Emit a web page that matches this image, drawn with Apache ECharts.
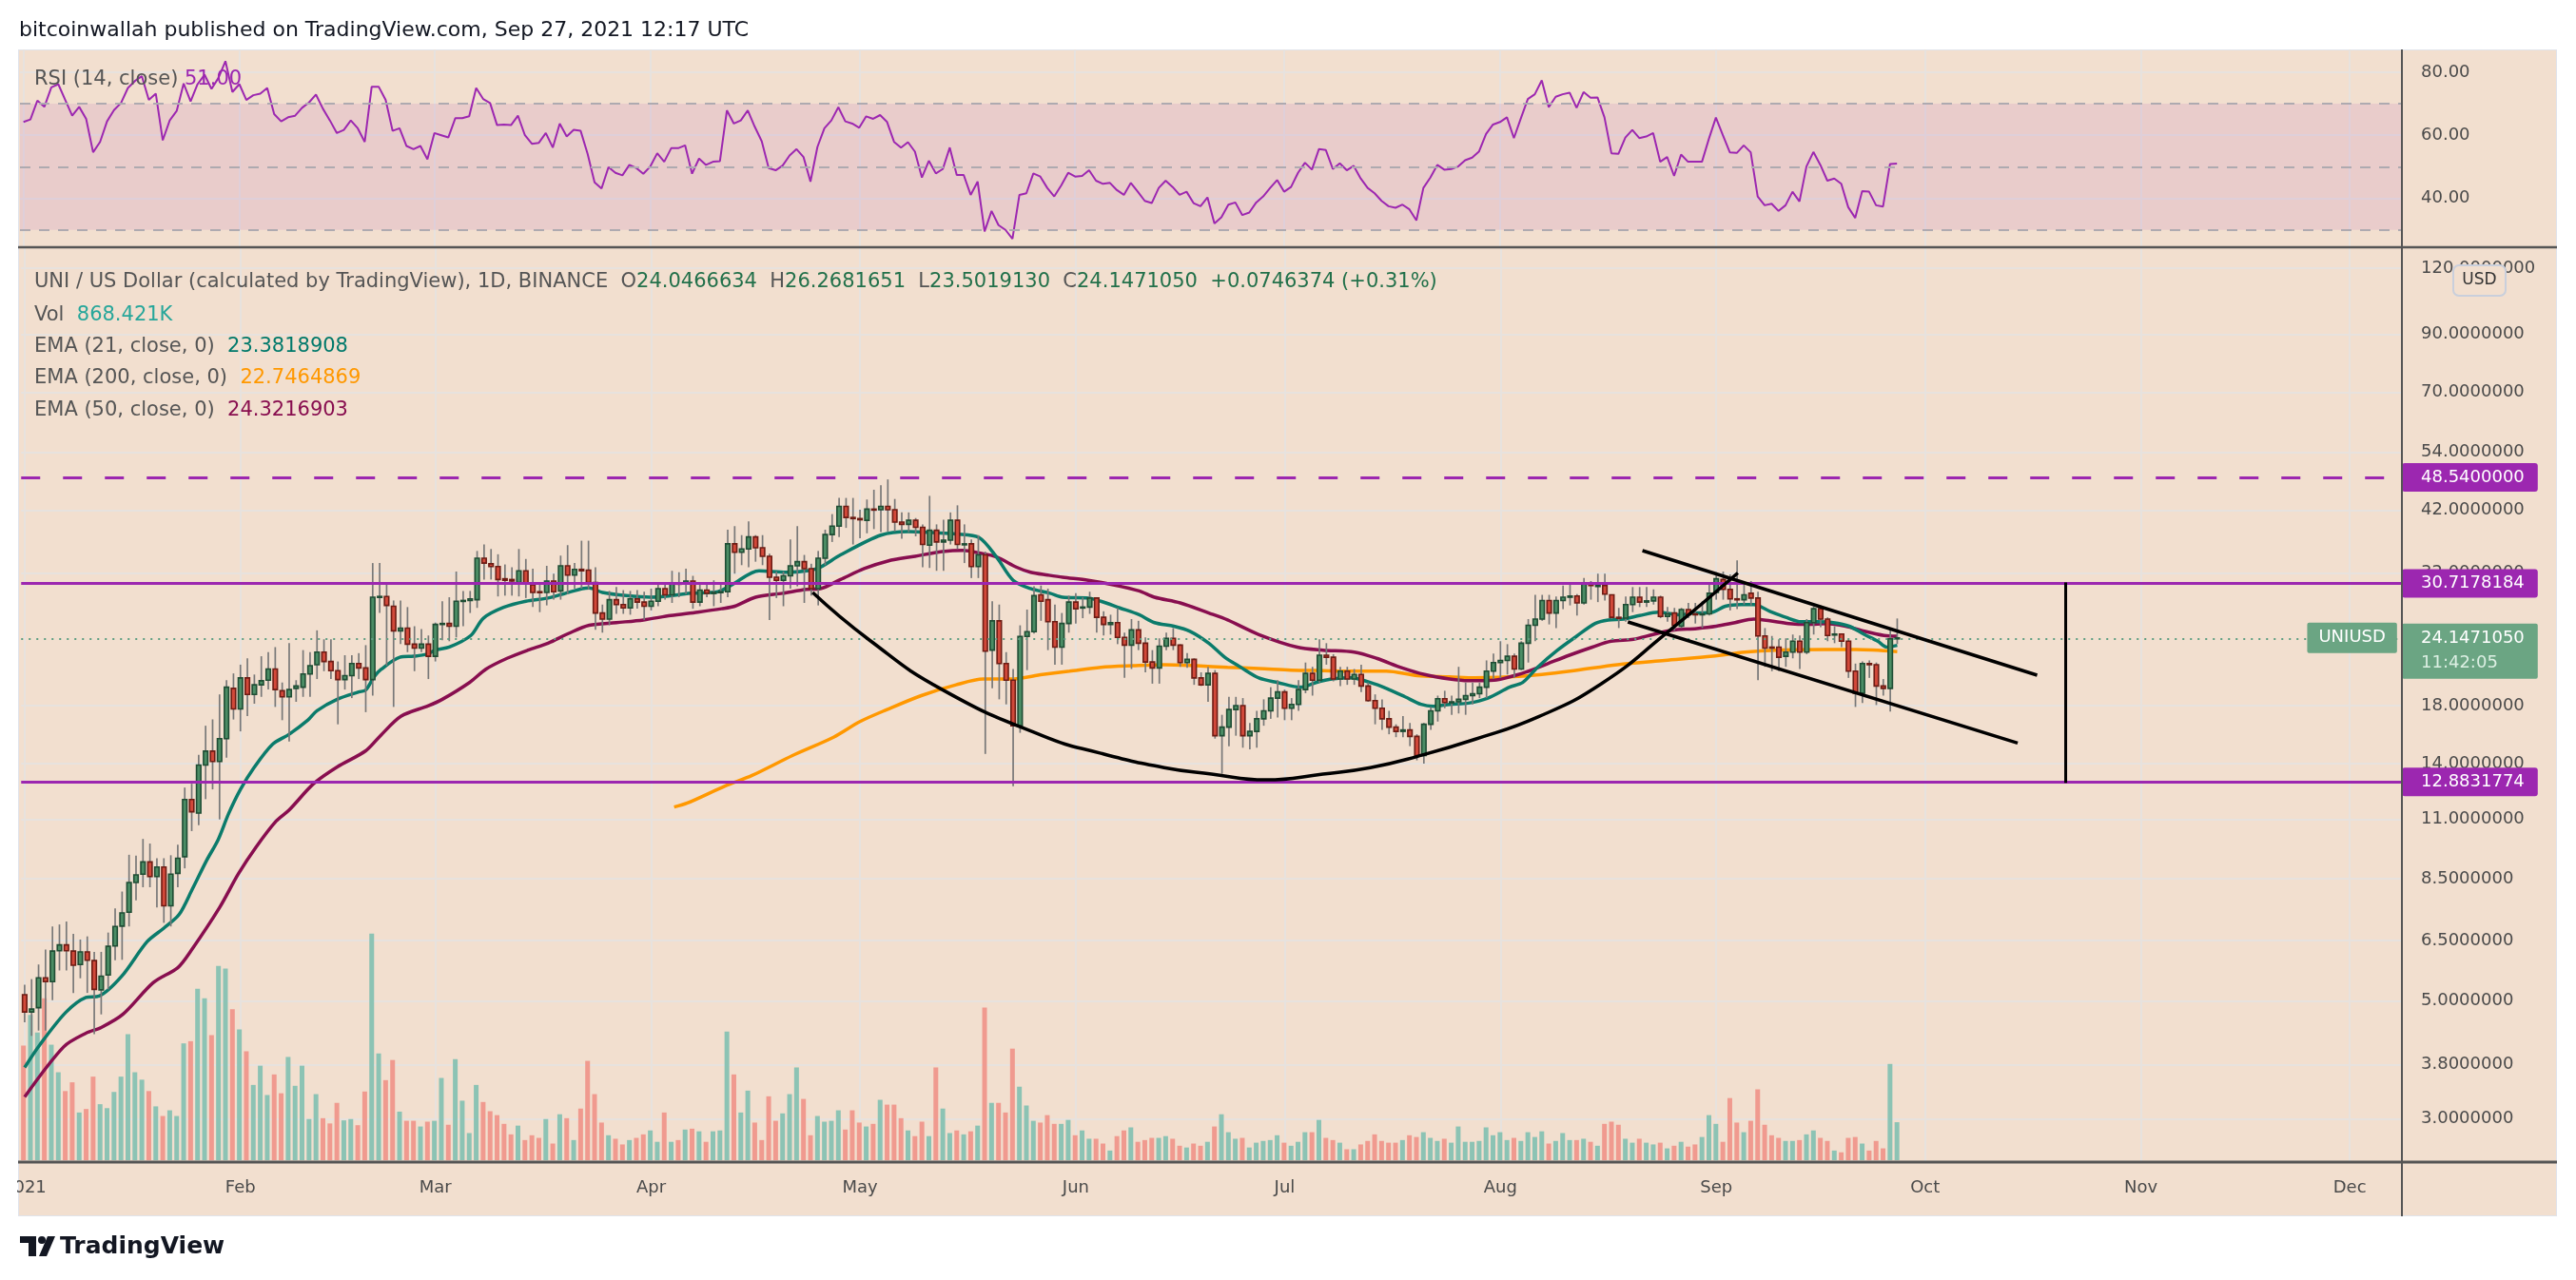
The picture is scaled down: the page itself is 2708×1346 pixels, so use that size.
<!DOCTYPE html>
<html>
<head>
<meta charset="utf-8">
<title>UNI / US Dollar</title>
<script src="https://cdn.jsdelivr.net/npm/echarts@6.0.0/dist/echarts.min.js"></script>
<style>
  html, body { margin: 0; padding: 0; background: #ffffff; }
  #panel { position: absolute; left: 19px; top: 52px; width: 2669px; height: 1227px; background: #f2dfcf; box-sizing: border-box; border: 1px solid #e0e3eb; }
  #chart { position: absolute; left: 0; top: 0; width: 2708px; height: 1346px; }
</style>
</head>
<body>
<div id="panel"></div>
<div id="chart"></div>
<script>
// ---- days on the time axis (Jan 1 2021 onward, one category per day) ----
const startDay = Date.UTC(2021, 0, 1);
const dayCount = 342;
const days = [];
for (let i = 0; i < dayCount; i++) {
  days.push(new Date(startDay + i * 864e5).toISOString().slice(0, 10));
}
const monthLabels = ['2021', 'Feb', 'Mar', 'Apr', 'May', 'Jun', 'Jul', 'Aug', 'Sep', 'Oct', 'Nov', 'Dec'];

// daily candles, [open, high, low, close], from Jan 1 2021
const ohlc = [
  [5.14,5.37,4.56,4.77],[4.77,5.50,4.30,4.83],[4.86,5.86,4.40,5.53],[5.53,6.25,4.40,5.44],[5.44,6.91,5.02,6.21],
  [6.22,6.97,5.71,6.38],[6.38,7.06,5.71,6.22],[6.21,6.69,5.18,5.84],[5.86,6.53,5.52,6.19],[6.19,6.62,5.18,5.97],
  [5.96,6.19,4.33,5.26],[5.25,6.19,4.72,5.57],[5.60,6.73,5.26,6.34],[6.35,7.47,5.97,6.91],[6.92,8.04,5.98,7.33],
  [7.35,9.43,6.91,8.36],[8.36,9.39,7.74,8.64],[8.67,10.1,8.19,9.14],[9.14,9.90,8.19,8.58],[8.58,9.29,7.50,8.94],
  [8.94,9.29,7.02,7.56],[7.56,9.41,6.91,8.67],[8.70,9.85,8.19,9.29],[9.35,12.62,8.89,11.98],[11.98,12.83,10.45,11.36],
  [11.30,14.54,10.72,13.91],[13.91,16.5,12.0,14.78],[14.78,16.96,12.52,14.13],[14.13,18.9,10.99,15.6],[15.6,20.1,14.37,19.5],
  [19.4,20.7,16.95,17.75],[17.75,21.5,16.1,20.3],[20.3,22.1,17.2,18.9],[18.9,20.6,18.15,19.7],[19.7,22.3,18.7,20.05],
  [20.1,22.7,19.3,21.1],[21.1,23.2,17.9,19.3],[19.2,19.9,16.9,18.7],[18.7,23.6,15.4,19.3],[19.4,20.1,18.3,19.6],
  [19.5,22.9,18.7,20.65],[20.65,22.7,18.7,21.4],[21.5,24.95,20.2,22.7],[22.7,24.0,20.9,21.8],[21.8,24.0,20.2,20.95],
  [20.95,21.8,16.6,20.15],[20.15,22.4,19.3,20.5],[20.5,22.4,18.6,21.6],[21.6,22.6,20.2,21.2],[21.2,23.4,17.5,20.15],
  [20.15,33.4,18.8,28.8],[28.8,33.4,26.9,28.9],[28.9,30.4,21.4,27.8],[27.7,28.4,17.9,24.9],[24.9,28.4,23.5,25.2],
  [25.2,27.6,22.7,23.5],[23.5,25.4,20.9,23.1],[23.1,25.1,22.7,23.5],[23.5,24.4,20.2,22.3],[22.3,25.8,21.8,25.6],
  [25.6,28.3,23.9,25.7],[25.7,28.8,23.8,25.4],[25.4,32.2,24.2,28.3],[28.3,29.6,25.4,28.4],[28.4,29.6,26.9,28.6],
  [28.5,35.2,27.5,34.1],[34.1,36.2,31.1,33.4],[33.3,35.5,31.1,32.9],[32.9,34.7,28.9,31.1],[31.2,33.2,29.0,31.0],
  [31.1,32.8,29.0,30.9],[30.7,35.5,28.9,32.3],[32.3,34.0,28.7,30.5],[30.4,32.6,27.6,29.4],[29.5,30.6,27.0,29.4],
  [29.4,33.0,27.8,30.9],[30.9,31.9,28.5,29.5],[29.6,34.5,28.5,33.0],[33.0,36.1,29.2,31.7],[31.7,33.4,29.9,32.5],
  [32.5,36.8,29.9,32.3],[32.4,36.8,29.8,30.7],[30.7,32.8,25.0,26.9],[26.9,27.9,24.7,26.2],[26.2,29.6,25.5,28.5],
  [28.5,30.1,26.8,27.9],[27.9,29.7,26.8,27.5],[27.5,29.6,26.7,28.6],[28.6,29.7,27.4,28.2],[28.2,29.5,26.1,27.7],
  [27.7,29.9,27.2,28.3],[28.3,30.6,27.7,29.9],[29.9,30.6,28.5,29.1],[29.1,32.3,28.1,30.6],[30.6,32.1,28.8,30.5],
  [30.5,32.6,29.2,30.9],[30.9,31.6,27.4,28.2],[28.2,30.4,27.7,29.7],[29.7,30.7,28.8,29.3],[29.3,31.0,27.7,29.4],
  [29.4,30.4,28.1,29.5],[29.5,38.6,28.8,36.3],[36.3,39.2,31.9,35.0],[35.0,37.7,33.1,35.5],[35.5,40.0,32.8,37.4],
  [37.4,37.7,33.6,35.7],[35.7,37.7,33.1,34.4],[34.4,34.8,26.1,31.4],[31.4,32.2,28.7,31.0],[31.0,32.2,27.7,31.6],
  [31.6,37.0,29.9,33.0],[33.0,39.2,30.2,33.6],[33.6,34.6,28.1,32.6],[32.6,33.3,29.0,29.9],[29.9,35.2,27.8,34.1],
  [34.1,38.6,33.1,37.8],[37.8,41.3,36.6,39.2],[39.2,44.3,37.4,42.7],[42.7,44.3,38.9,40.7],[40.7,44.3,36.2,40.5],
  [40.5,42.1,37.2,40.3],[40.2,44.0,38.0,42.2],[42.2,45.9,38.7,42.1],[42.1,46.8,38.2,42.7],[42.7,48.0,38.3,42.1],
  [42.1,44.1,38.3,39.9],[39.9,41.6,37.1,39.5],[39.5,41.6,38.2,40.2],[40.2,40.6,37.5,39.0],[39.0,39.5,32.8,36.2],
  [36.1,44.7,32.7,38.5],[38.5,39.5,32.3,36.6],[36.6,40.3,32.3,36.9],[36.9,41.6,36.2,40.2],[40.2,42.9,35.5,36.2],
  [36.2,39.5,33.4,36.3],[36.3,37.0,31.3,32.9],[32.9,37.7,31.3,34.6],[34.6,35.1,14.6,22.8],[22.9,28.3,19.4,26.0],
  [26.0,27.9,18.5,21.6],[21.6,22.7,18.1,20.1],[20.1,21.1,12.7,16.5],[16.5,25.5,16.0,24.3],[24.3,27.3,21.0,24.8],
  [24.8,30.2,24.6,29.0],[29.1,30.3,26.0,28.3],[28.5,29.9,22.9,25.9],[25.9,27.9,21.5,23.2],[23.2,26.9,21.5,25.7],
  [25.7,29.0,24.7,28.2],[28.2,29.3,25.7,27.4],[27.5,28.8,26.3,27.6],[27.6,29.5,26.8,28.7],[28.7,28.8,24.7,26.4],
  [26.4,27.1,24.4,25.6],[25.6,26.7,24.5,25.8],[25.8,27.5,23.5,24.2],[24.2,24.7,20.3,23.4],[23.4,26.2,21.1,25.0],
  [25.0,26.0,22.9,23.6],[23.6,24.2,20.8,21.75],[21.75,22.9,19.8,21.2],[21.2,24.1,19.8,23.3],[23.3,24.7,22.9,24.1],
  [24.1,25.2,22.9,23.4],[23.4,23.5,21.3,21.7],[21.7,22.6,21.2,22.0],[22.0,22.1,19.7,20.3],[20.3,20.8,19.6,19.7],
  [19.7,21.3,18.3,20.7],[20.7,21.0,15.6,15.8],[15.8,17.3,13.4,16.4],[16.4,18.7,15.1,17.7],[17.7,18.7,15.8,18.0],
  [18.0,18.6,15.0,15.8],[15.8,16.7,14.9,16.1],[16.1,17.6,15.0,17.0],[17.0,18.5,16.5,17.6],[17.6,19.5,17.0,18.6],
  [18.6,20.1,17.1,19.1],[19.1,19.3,16.9,17.8],[17.8,18.6,16.9,18.1],[18.1,20.1,17.6,19.3],[19.3,21.7,19.0,20.7],
  [20.7,21.3,18.8,20.1],[20.1,24.0,19.9,22.4],[22.4,23.6,21.5,22.2],[22.2,22.5,20.0,20.2],[20.2,21.3,19.6,20.9],
  [20.9,21.3,19.7,20.2],[20.2,21.1,19.7,20.6],[20.6,21.5,19.1,19.6],[19.6,19.9,18.3,18.4],[18.4,18.9,16.6,17.8],
  [17.8,18.5,16.2,17.0],[17.0,17.6,15.9,16.4],[16.4,16.6,15.7,16.1],[16.1,17.2,15.7,16.2],[16.2,16.7,15.1,15.75],
  [15.75,15.9,14.2,14.5],[14.5,16.7,14.0,16.6],[16.6,17.9,16.2,17.6],[17.6,18.8,16.8,18.55],[18.55,19.2,17.8,18.25],
  [18.25,18.8,17.3,18.3],[18.3,21.3,17.4,18.5],[18.5,19.9,17.3,18.8],[18.8,19.9,18.1,18.95],[18.95,19.9,18.6,19.5],
  [19.5,21.9,18.6,20.9],[20.9,22.55,20.2,21.7],[21.7,23.8,20.3,21.9],[21.9,23.5,20.6,22.3],[22.3,22.55,20.3,21.1],
  [21.1,23.8,21.0,23.6],[23.6,26.2,21.7,25.5],[25.5,29.1,23.8,26.2],[26.2,29.1,26.0,28.4],[28.4,29.1,25.6,26.9],
  [26.9,28.9,25.2,28.4],[28.4,30.3,27.35,28.8],[28.8,30.4,27.8,28.95],[28.95,29.2,26.6,28.1],[28.1,31.3,27.9,30.5],
  [30.5,30.9,28.5,30.3],[30.25,31.9,28.2,30.3],[30.3,31.9,28.4,29.2],[29.1,29.1,26.2,26.4],[26.4,27.5,25.2,26.3],
  [26.3,28.9,25.9,27.9],[27.9,30.1,27.0,28.8],[28.8,30.1,27.6,28.2],[28.2,30.1,27.6,28.35],[28.35,29.8,27.9,28.8],
  [28.8,29.0,26.3,26.5],[26.5,27.6,25.9,26.8],[26.9,27.5,24.9,25.5],[25.4,27.5,25.2,27.3],[27.3,28.1,26.3,26.7],
  [26.8,28.1,25.7,26.75],[26.75,28.3,25.2,26.8],[26.8,30.4,26.6,29.3],[29.4,32.1,28.5,31.2],[31.1,32.2,28.5,29.8],
  [29.8,31.8,27.2,28.6],[28.6,33.8,27.35,28.5],[28.5,30.5,27.9,29.1],[29.3,30.9,27.8,28.7],[28.7,29.5,20.1,24.35],
  [24.35,25.2,21.3,23.1],[23.2,24.35,20.9,23.1],[23.2,24.0,20.9,22.2],[22.3,24.1,21.3,22.7],[22.7,24.5,22.1,23.8],
  [23.8,24.4,21.1,22.7],[22.7,26.2,22.5,25.8],[25.8,27.7,24.5,27.4],[27.4,27.8,25.3,26.2],[26.2,26.4,23.8,24.4],
  [24.5,25.4,23.6,24.55],[24.55,24.6,23.2,23.8],[23.8,24.0,20.3,20.9],[20.9,21.6,17.9,19.0],[19.0,21.8,18.2,21.6],
  [21.6,21.9,20.3,21.5],[21.5,21.7,18.05,19.6],[19.6,20.2,18.8,19.4],[19.4,25.2,17.55,24.05],[24.0466634,26.2681651,23.5019130,24.1471050]
];

// daily volume, millions of UNI
const volumes = [
  2.62,3.32,2.92,3.70,2.64,2.01,1.58,1.78,1.09,1.17, 1.91,1.28,1.19,1.56,1.91,2.88,2.01,1.84,1.58,1.23,
  1.01,1.14,1.01,2.67,2.72,3.92,3.70,2.86,4.44,4.38, 3.45,2.99,2.49,1.72,2.16,1.49,1.96,1.53,2.36,1.70,
  2.16,0.94,1.51,0.96,0.84,1.31,0.91,0.94,0.80,1.57, 5.18,2.44,1.83,2.29,1.11,0.90,0.90,0.77,0.88,0.90,
  1.88,0.81,2.31,1.36,0.62,1.72,1.33,1.12,1.03,0.83, 0.59,0.79,0.46,0.57,0.51,0.94,0.38,1.05,0.96,0.46,
  1.18,2.27,1.51,0.86,0.57,0.49,0.36,0.46,0.51,0.59, 0.68,0.42,1.09,0.42,0.46,0.70,0.72,0.66,0.42,0.66,
  0.68,2.94,1.96,1.09,1.59,0.86,0.46,1.46,0.90,1.07, 1.51,2.12,1.40,0.57,1.01,0.88,0.90,1.14,0.70,1.14,
  0.86,0.77,0.83,1.38,1.27,1.27,0.96,0.68,0.55,0.88, 0.55,2.12,1.18,
  0.62,0.68,0.59,0.66,0.79,3.49,1.31,1.31,1.09,2.55, 1.68,1.25,0.90,0.86,1.03,0.83,0.83,0.92,0.57,0.68,
  0.49,0.49,0.38,0.22,0.55,0.68,0.75,0.42,0.46,0.51, 0.51,0.55,0.49,0.33,0.29,0.38,0.33,0.42,0.77,1.05,
  0.64,0.49,0.51,0.29,0.40,0.44,0.46,0.57,0.40,0.33, 0.42,0.64,0.64,0.92,0.51,0.46,0.40,0.25,0.25,0.36,
  0.44,0.59,0.44,0.40,0.40,0.46,0.57,0.53,0.64,0.51, 0.44,0.49,0.40,0.77,0.42,0.42,0.44,0.75,0.57,0.64,
  0.46,0.51,0.44,0.64,0.53,0.66,0.38,0.44,0.62,0.46, 0.46,0.49,0.42,0.33,0.83,0.88,0.81,0.49,0.40,0.49,
  0.40,0.36,0.40,0.27,0.33,0.42,0.31,0.36,0.53,1.03, 0.83,0.42,1.42,0.86,0.64,0.90,1.62,0.81,0.57,0.51,
  0.44,0.44,0.46,0.59,0.68,0.51,0.44,0.22,0.18,0.51, 0.53,0.38,0.22,0.44,0.27,2.20,0.868421
];

// RSI(14) per day
const rsi = [
  64.2,65.0,71.0,69.0,75.2,76.2,71.2,66.2,69.0,65.2, 54.6,57.9,64.4,68.0,70.2,75.0,77.2,78.7,71.2,73.2,
  58.4,64.7,67.7,76.4,70.7,76.2,79.2,74.7,78.2,83.5, 73.7,76.2,71.2,72.7,73.2,75.0,66.7,64.4,65.7,66.2,
  68.7,70.4,72.9,68.4,64.7,60.7,61.7,64.7,62.2,57.9, 75.4,75.4,71.2,61.4,62.2,56.6,55.6,56.6,52.4,60.7,
  60.0,59.3,65.4,65.4,66.0,75.0,71.5,70.2,63.2,63.4, 63.2,66.2,60.0,57.3,57.6,60.7,56.1,63.7,59.6,61.7,
  61.4,54.1,45.1,43.1,49.9,48.1,47.3,50.6,49.6,47.8, 50.1,54.3,51.6,55.9,55.9,56.8,47.8,52.6,50.6,51.6,
  51.8,67.9,63.7,64.7,67.9,62.7,58.1,49.6,48.9,50.4, 53.6,55.6,53.1,45.3,56.3,62.2,64.7,68.9,64.4,63.7,
  62.4,66.0,65.2,66.4,64.2,57.9,56.1,57.8,54.8,46.6, 51.9,47.9,49.3,56.1,47.4,47.4,41.1,45.3,29.5,36.0,
  31.5,30.0,27.2,41.1,41.6,47.9,46.9,43.3,40.6,44.1, 48.1,46.9,47.1,48.9,45.6,44.6,44.9,42.6,41.1,44.9,
  42.1,39.2,38.5,43.3,45.6,43.6,41.1,42.1,38.5,37.5, 40.3,32.0,34.0,38.0,38.7,34.7,35.5,38.7,40.6,43.3,
  45.8,42.1,43.6,48.1,51.3,49.1,55.6,55.3,49.3,51.1, 48.9,50.3,46.3,43.3,41.6,39.2,37.5,37.0,38.0,36.5,
  33.0,43.3,46.6,50.6,49.1,49.3,50.1,52.1,52.9,54.9, 60.4,63.4,64.2,65.7,59.1,65.4,71.5,73.0,77.4,68.9,
  72.2,73.0,73.5,68.7,73.7,71.9,72.0,65.7,54.3,54.1, 59.3,61.7,59.1,59.6,60.7,51.6,53.1,47.1,53.9,51.6,
  51.6,51.6,58.9,65.6,60.0,54.6,54.4,56.8,54.6,40.6, 37.8,38.3,36.0,37.8,42.1,39.0,50.1,54.7,50.6,45.6,
  46.3,44.6,37.2,33.8,42.3,42.1,37.8,37.4,50.9,51.0
];

// moving averages, [day index, price]
const ema21 = [
  [0,3.75],[2.2,4.14],[5.9,4.76],[8.8,5.08],[10.7,5.11],[13.9,5.56],[17.6,6.47],[20,6.86],[22.2,7.28],[24.1,8.13],
  [26.1,9.18],[27.8,10.07],[29.3,11.27],[31,12.52],[32.9,13.73],[35.6,15.22],[38,15.9],[40.7,16.91],[42,17.61],[44.9,18.5],
  [48,19.1],[49,19.26],[50.2,20.4],[51.2,21.06],[53.9,22.2],[55.9,22.3],[57.8,22.5],[59,22.9],[61,23.2],[64.1,24.4],
  [65.9,26.3],[68.8,27.56],[72,28.3],[75.2,28.7],[77.7,29.3],[80.1,29.9],[81.1,30.0],[83,29.4],[86.4,29.0],[89.9,28.8],
  [91.8,28.9],[95.7,29.3],[99.6,29.5],[101.6,30.4],[105.5,32.3],[109.4,32.1],[112.4,32.3],[114.3,32.8],[117.2,34.6],[123,37.7],
  [126.9,38.3],[130.8,38.1],[133.8,37.9],[137.1,37.3],[139.6,34.3],[142,31.0],[144.5,29.9],[147.3,29.3],[149.1,28.8],[152.8,28.7],
  [154.6,28.3],[157.3,27.5],[160.1,26.7],[162.3,25.8],[165.1,25.4],[167.4,24.85],[170.1,23.6],[172.4,22.2],[174.6,21.3],[177.3,20.3],
  [180,19.9],[183.3,19.5],[185.5,19.9],[187.8,20.2],[190.6,20.3],[193.3,19.9],[195.6,19.4],[198.3,18.7],[200.6,18.1],[202.4,17.95],
  [204.7,18.1],[207.4,18.2],[210.2,18.6],[213.3,19.5],[215.2,19.9],[217.4,21.3],[220.2,22.9],[222.9,24.3],[225.6,25.7],[227.5,26.1],
  [229.7,26.2],[232,26.6],[234.7,27.0],[237.5,26.7],[240.2,26.9],[242.5,27.0],[244.3,27.7],[246.6,27.9],[248.4,27.9],[250.7,27.1],
  [253,26.4],[255.2,25.9],[257.5,25.9],[259.8,25.8],[262.1,25.4],[264.3,24.5],[266.2,23.8],[267.5,23.2],[269,23.38]
];
const ema50 = [
  [0,3.3],[5.6,4.1],[8.8,4.35],[11,4.46],[14.1,4.72],[18.5,5.42],[22,5.78],[23.9,6.22],[28,7.5],[30.7,8.68],
  [33.2,9.73],[36.1,10.9],[38,11.45],[41.5,12.83],[44.9,13.8],[49,14.8],[51.2,15.85],[54.1,17.2],[58,17.99],[60,18.5],
  [63.9,19.9],[66.3,21.1],[69.3,22.1],[72.3,22.9],[75.2,23.6],[78.1,24.6],[81.1,25.5],[85,25.8],[88.9,26.1],[92.8,26.6],
  [96.7,27.0],[100.1,27.4],[102,27.7],[105,28.8],[108.9,29.3],[112.3,29.8],[114.3,29.9],[117.2,31.1],[120.6,32.6],[124,33.7],
  [127.9,34.4],[131.8,35.1],[134.8,35.3],[137.1,34.9],[139.6,34.3],[142.5,32.8],[144.5,32.1],[147,31.7],[149.1,31.4],[152.8,31.0],
  [156.4,30.4],[160.1,29.6],[162.3,28.8],[166,28.1],[170.1,26.9],[172.8,26.1],[177.3,24.5],[182.8,23.2],[186.5,22.9],[191,22.7],
  [194.2,22.1],[197.9,21.2],[201.1,20.6],[204.7,20.2],[207.4,20.05],[211.1,20.1],[212.8,20.3],[215.6,20.8],[218.8,21.6],[221.9,22.4],
  [225.2,23.2],[227.9,23.8],[231.1,24.0],[233.9,24.5],[236.6,24.95],[240.2,25.15],[243,25.4],[245.7,25.8],[248.4,26.2],[250.7,26.0],
  [253.4,25.7],[256.2,25.6],[258.9,25.7],[261.6,25.4],[264.3,24.85],[267.1,24.4],[269,24.32]
];
const ema200 = [
  [93.3,11.6],[95.2,11.8],[100.6,12.7],[104.5,13.3],[110.3,14.5],[116.2,15.7],[120,16.8],[123.9,17.7],[128.8,18.8],[133.8,19.7],
  [137.7,20.2],[141.6,20.2],[146.2,20.6],[150.1,20.9],[154.6,21.25],[159.2,21.4],[163.7,21.5],[168.3,21.4],[172.8,21.25],[177.3,21.15],
  [181.9,21.0],[186.5,20.95],[191,20.9],[195.6,20.9],[200.1,20.5],[204.7,20.4],[208.3,20.3],[215.2,20.45],[222,20.9],[228.8,21.5],
  [235.6,21.9],[242.5,22.3],[247.1,22.7],[251.6,22.9],[258.5,22.95],[263.1,22.95],[269,22.75]
];

// drawings, [day index, price]
const cupArc = [
  [113.2,29.4],[121.3,23.95],[131.8,19.3],[146.2,15.8],[154.6,14.64],[163.7,13.76],[170.5,13.38],[178.3,13.05],
  [186.5,13.38],[193.3,13.76],[200.1,14.45],[208.3,15.55],[217.4,17.14],[226.5,19.8],[235.7,24.56],[246.1,32.0]
];
const channelTop = [[232.4,35.25],[289.1,20.54]];
const channelBottom = [[230.3,25.88],[286.3,15.3]];
const targetMove = [[293.2,30.7178184],[293.2,12.8831774]];

const levelHigh = 48.54;
const levelMid = 30.7178184;
const levelLow = 12.8831774;
const lastPrice = 24.1471050;

const priceTicks = [3.0, 3.8, 5.0, 6.5, 8.5, 11, 14, 18, 32, 42, 54, 70, 90, 120];
const rsiTicks = [40, 60, 80];

// ---- styling ----
const FONT = 'DejaVu Sans';
const gridColor = '#e7e2de';
const axisText = '#4a4a4a';
const purple = '#9c27b0';
const upFill = '#4b8d65', upEdge = '#1f4d34';
const downFill = '#d2493a', downEdge = '#6e1c14';
const wick = '#787878';
const volUp = '#8cc3b4', volDown = '#f09a8f';
const priceGreen = '#6ba583';

const ln = Math.log;
const lnData = arr => arr.map(([d, p]) => [d, ln(p)]);
const isMonthStart = (i, v) => v.slice(8) === '01';

const candleData = ohlc.map((r, i) => [i, ln(r[0]), ln(r[3]), ln(r[2]), ln(r[1])]);
const volumeData = volumes.map((v, i) => ({
  value: v,
  itemStyle: { color: ohlc[i][3] >= ohlc[i][0] ? volUp : volDown }
}));

function renderCandle(params, api) {
  const i = api.value(0);
  const o = api.value(1), c = api.value(2), l = api.value(3), h = api.value(4);
  const top = api.coord([i, Math.max(o, c)]);
  const bot = api.coord([i, Math.min(o, c)]);
  const hi = api.coord([i, h]);
  const lo = api.coord([i, l]);
  const bw = api.size([1, 0])[0] * 0.62;
  const up = c >= o;
  return {
    type: 'group',
    children: [
      { type: 'line', shape: { x1: hi[0], y1: hi[1], x2: lo[0], y2: lo[1] }, style: { stroke: wick, lineWidth: 1.7 } },
      { type: 'rect', shape: { x: top[0] - bw / 2, y: top[1], width: bw, height: Math.max(bot[1] - top[1], 1) },
        style: { fill: up ? upFill : downFill, stroke: up ? upEdge : downEdge, lineWidth: 1.6 } }
    ]
  };
}

const levelLabel = {
  show: true, position: 'end', distance: 0,
  color: '#ffffff', fontFamily: FONT, fontSize: 18, lineHeight: 20,
  backgroundColor: purple, padding: [5, 14, 5, 20], borderRadius: 3
};

const chart = echarts.init(document.getElementById('chart'));
chart.setOption({
  animation: false,
  grid: [
    { left: 21, right: 183, top: 52, height: 207 },
    { left: 21, right: 183, top: 261, height: 961 },
    { left: 21, right: 183, top: 944, height: 276 }
  ],
  xAxis: [
    { type: 'category', gridIndex: 0, data: days, axisLine: { show: false }, axisTick: { show: false },
      axisLabel: { show: false },
      splitLine: { show: true, interval: isMonthStart, alignWithLabel: true, lineStyle: { color: gridColor, width: 2 } } },
    { type: 'category', gridIndex: 1, data: days, axisLine: { show: false }, axisTick: { show: false },
      axisLabel: { show: true, interval: isMonthStart, margin: 18, color: axisText, fontFamily: FONT, fontSize: 18,
        formatter: v => monthLabels[+v.slice(5, 7) - 1] },
      splitLine: { show: true, interval: isMonthStart, alignWithLabel: true, lineStyle: { color: gridColor, width: 2 } } },
    { type: 'category', gridIndex: 2, data: days, show: false },
    { type: 'value', gridIndex: 1, min: -0.5, max: dayCount - 0.5, show: false }
  ],
  yAxis: [
    { type: 'value', gridIndex: 0, position: 'right', min: 24.8, max: 87.2,
      axisLine: { show: false }, axisTick: { show: false, customValues: rsiTicks },
      axisLabel: { customValues: rsiTicks, margin: 20, color: axisText, fontFamily: FONT, fontSize: 18, formatter: v => v.toFixed(2) },
      splitLine: { show: true, lineStyle: { color: gridColor, width: 2 } } },
    { type: 'value', gridIndex: 1, position: 'right', min: ln(2.488), max: ln(130.8),
      axisLine: { show: false }, axisTick: { show: false, customValues: priceTicks.map(ln) },
      axisLabel: { customValues: priceTicks.map(ln), margin: 20, color: axisText, fontFamily: FONT, fontSize: 18,
        formatter: v => Math.exp(v).toFixed(7) },
      splitLine: { show: true, lineStyle: { color: gridColor, width: 2 } } },
    { type: 'value', gridIndex: 2, min: 0, max: 6, show: false }
  ],
  series: [
    {
      name: 'RSI', type: 'line', xAxisIndex: 0, yAxisIndex: 0, data: rsi, symbol: 'none', z: 3,
      lineStyle: { color: purple, width: 2 },
      markArea: { silent: true, itemStyle: { color: 'rgba(156,39,176,0.1)' }, data: [[{ yAxis: 30 }, { yAxis: 70 }]] },
      markLine: { silent: true, symbol: ['none', 'none'], label: { show: false },
        lineStyle: { type: [11, 9], color: '#aeaab0', width: 2 },
        data: [{ yAxis: 70 }, { yAxis: 50 }, { yAxis: 30 }] }
    },
    { name: 'Vol', type: 'bar', xAxisIndex: 2, yAxisIndex: 2, barWidth: 5, data: volumeData, z: 1 },
    { name: 'EMA200', type: 'line', xAxisIndex: 3, yAxisIndex: 1, data: lnData(ema200), smooth: 0.3, symbol: 'none', z: 3,
      lineStyle: { color: '#ff9800', width: 3.5 } },
    { name: 'EMA50', type: 'line', xAxisIndex: 3, yAxisIndex: 1, data: lnData(ema50), smooth: 0.3, symbol: 'none', z: 3,
      lineStyle: { color: '#880e4f', width: 3.5 } },
    { name: 'EMA21', type: 'line', xAxisIndex: 3, yAxisIndex: 1, data: lnData(ema21), smooth: 0.3, symbol: 'none', z: 3,
      lineStyle: { color: '#0b7b6b', width: 3.5 } },
    { name: 'UNIUSD', type: 'custom', xAxisIndex: 1, yAxisIndex: 1, data: candleData, renderItem: renderCandle,
      encode: { x: 0, y: [1, 2, 3, 4] }, z: 4, clip: true,
      // symbol tag at the right edge of the plot, on the last price
      markPoint: {
        silent: true, symbol: 'rect', symbolSize: 1, itemStyle: { color: 'rgba(0,0,0,0)' },
        data: [{ coord: [dayCount - 1, ln(lastPrice)],
          label: { show: true, position: 'left', distance: 1, formatter: 'UNIUSD', color: '#ffffff',
            fontFamily: FONT, fontSize: 18, lineHeight: 20, backgroundColor: priceGreen,
            padding: [6, 12, 6, 12], borderRadius: 2 } }]
      } },
    {
      name: 'levels', type: 'line', xAxisIndex: 1, yAxisIndex: 1, data: [], z: 5,
      markLine: {
        silent: true, symbol: ['none', 'none'],
        data: [
          { yAxis: ln(lastPrice), lineStyle: { color: '#5f9f83', width: 2, type: [2, 6] },
            label: { show: true, position: 'end', distance: 0, offset: [0, 13], backgroundColor: priceGreen,
              padding: [3, 14, 3, 20], borderRadius: 2,
              formatter: '{p|24.1471050}\n{t|11:42:05}',
              rich: { p: { color: '#ffffff', fontFamily: FONT, fontSize: 18, lineHeight: 26 },
                      t: { color: '#dcefe3', fontFamily: FONT, fontSize: 18, lineHeight: 26 } } } },
          { yAxis: ln(levelHigh), lineStyle: { color: purple, width: 3, type: [20, 24] },
            label: Object.assign({}, levelLabel, { formatter: levelHigh.toFixed(7) }) },
          { yAxis: ln(levelMid), lineStyle: { color: purple, width: 3, type: 'solid' },
            label: Object.assign({}, levelLabel, { formatter: levelMid.toFixed(7) }) },
          { yAxis: ln(levelLow), lineStyle: { color: purple, width: 3, type: 'solid' },
            label: Object.assign({}, levelLabel, { formatter: levelLow.toFixed(7) }) }
        ]
      }
    },
    { name: 'cup', type: 'line', xAxisIndex: 3, yAxisIndex: 1, data: lnData(cupArc), smooth: 0.5, symbol: 'none', z: 6,
      lineStyle: { color: '#000000', width: 3.5 } },
    { name: 'channelTop', type: 'line', xAxisIndex: 3, yAxisIndex: 1, data: lnData(channelTop), symbol: 'none', z: 6,
      lineStyle: { color: '#000000', width: 3.5 } },
    { name: 'channelBottom', type: 'line', xAxisIndex: 3, yAxisIndex: 1, data: lnData(channelBottom), symbol: 'none', z: 6,
      lineStyle: { color: '#000000', width: 3.5 } },
    { name: 'target', type: 'line', xAxisIndex: 3, yAxisIndex: 1, data: lnData(targetMove), symbol: 'none', z: 6,
      lineStyle: { color: '#000000', width: 3 } }
  ],
  graphic: { elements: [
    // header and logo, outside the panel
    { type: 'text', x: 20, y: 32, z: 10, style: { text: 'bitcoinwallah published on TradingView.com, Sep 27, 2021 12:17 UTC',
      fill: '#131722', font: '22px "DejaVu Sans"', verticalAlign: 'middle' } },
    { type: 'rect', x: 0, y: 1222, z: 10, shape: { width: 18, height: 60 }, style: { fill: '#ffffff' } },
    { type: 'rect', x: 21, y: 1300, z: 10, shape: { width: 17, height: 7 }, style: { fill: '#131722' } },
    { type: 'rect', x: 30, y: 1300, z: 10, shape: { width: 8, height: 21 }, style: { fill: '#131722' } },
    { type: 'circle', z: 10, shape: { cx: 44, cy: 1304, r: 4 }, style: { fill: '#131722' } },
    { type: 'polygon', z: 10, shape: { points: [[50, 1300], [58, 1300], [49, 1321], [41, 1321]] }, style: { fill: '#131722' } },
    { type: 'text', x: 63, y: 1311, z: 10, style: { text: 'TradingView', fill: '#131722', font: '600 25px "DejaVu Sans"', verticalAlign: 'middle' } },
    // pane separators
    { type: 'line', z: 20, shape: { x1: 19, y1: 260, x2: 2688, y2: 260 }, style: { stroke: '#555555', lineWidth: 2.5 } },
    { type: 'line', z: 20, shape: { x1: 19, y1: 1222, x2: 2688, y2: 1222 }, style: { stroke: '#555555', lineWidth: 3 } },
    { type: 'line', z: 20, shape: { x1: 2525, y1: 52, x2: 2525, y2: 1279 }, style: { stroke: '#555555', lineWidth: 2 } },
    // currency badge
    { type: 'rect', z: 20, x: 2579, y: 279, shape: { width: 55, height: 32, r: 6 }, style: { fill: '#f2dfcf', stroke: '#c9cfdc', lineWidth: 2 } },
    { type: 'text', z: 21, x: 2606.5, y: 295, style: { text: 'USD', fill: '#333333', font: '17px "DejaVu Sans"', align: 'center', verticalAlign: 'middle' } },
    // legends
    { type: 'text', x: 36, y: 84, z: 20, style: { verticalAlign: 'middle', font: '21px "DejaVu Sans"',
      text: '{g|RSI (14, close)} {r|51.00}',
      rich: { g: { fill: '#555555', font: '21px "DejaVu Sans"' }, r: { fill: '#9c27b0', font: '21px "DejaVu Sans"' } } } },
    { type: 'text', x: 36, y: 297, z: 20, style: { verticalAlign: 'middle', font: '21px "DejaVu Sans"',
      text: '{g|UNI / US Dollar (calculated by TradingView), 1D, BINANCE}  {g|O}{v|24.0466634}  {g|H}{v|26.2681651}  {g|L}{v|23.5019130}  {g|C}{v|24.1471050}  {v|+0.0746374 (+0.31%)}',
      rich: { g: { fill: '#555555', font: '21px "DejaVu Sans"' }, v: { fill: '#22704a', font: '21px "DejaVu Sans"' } } } },
    { type: 'text', x: 36, y: 332, z: 20, style: { verticalAlign: 'middle', font: '21px "DejaVu Sans"',
      text: '{g|Vol}  {v|868.421K}',
      rich: { g: { fill: '#555555', font: '21px "DejaVu Sans"' }, v: { fill: '#26a69a', font: '21px "DejaVu Sans"' } } } },
    { type: 'text', x: 36, y: 365, z: 20, style: { verticalAlign: 'middle', font: '21px "DejaVu Sans"',
      text: '{g|EMA (21, close, 0)}  {v|23.3818908}',
      rich: { g: { fill: '#555555', font: '21px "DejaVu Sans"' }, v: { fill: '#00796b', font: '21px "DejaVu Sans"' } } } },
    { type: 'text', x: 36, y: 398, z: 20, style: { verticalAlign: 'middle', font: '21px "DejaVu Sans"',
      text: '{g|EMA (200, close, 0)}  {v|22.7464869}',
      rich: { g: { fill: '#555555', font: '21px "DejaVu Sans"' }, v: { fill: '#ff9800', font: '21px "DejaVu Sans"' } } } },
    { type: 'text', x: 36, y: 432, z: 20, style: { verticalAlign: 'middle', font: '21px "DejaVu Sans"',
      text: '{g|EMA (50, close, 0)}  {v|24.3216903}',
      rich: { g: { fill: '#555555', font: '21px "DejaVu Sans"' }, v: { fill: '#880e4f', font: '21px "DejaVu Sans"' } } } }
  ] }
});
</script>
</body>
</html>
